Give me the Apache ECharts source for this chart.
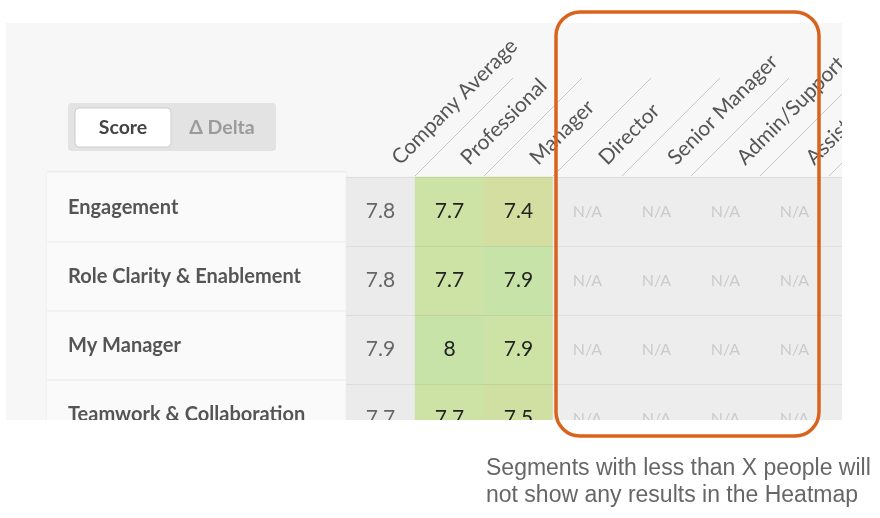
<!DOCTYPE html>
<html>
<head>
<meta charset="utf-8">
<script src="https://cdn.jsdelivr.net/npm/echarts@6/dist/echarts.min.js"></script>
<style>
  html, body { margin: 0; padding: 0; background: #fff; }
  #chart { width: 880px; height: 518px; }
</style>
</head>
<body>
<div id="chart"></div>
<script>
// segments (columns) and topics (rows)
const segments = ['Company Average', 'Professional', 'Manager', 'Director', 'Senior Manager', 'Admin/Support', 'Assistant', 'Associate']
const topics = ['Engagement', 'Role Clarity & Enablement', 'My Manager', 'Teamwork & Collaboration']

// scores per segment, one per topic; null = too few people (N/A)
const companyAverage = [7.8, 7.8, 7.9, 7.7]
const professional = [7.7, 7.7, 8, 7.7]
const manager = [7.4, 7.9, 7.9, 7.5]
const director = [null, null, null, null]
const seniorManager = [null, null, null, null]
const adminSupport = [null, null, null, null]
const assistant = [null, null, null, null]
const associate = [null, null, null, null]

const columns = [companyAverage, professional, manager, director, seniorManager, adminSupport, assistant, associate]

const toggleLabels = ['Score', 'Δ Delta']
const footnote = ['Segments with less than X people will', 'not show any results in the Heatmap']

const FONT = 'Lato, "Open Sans", sans-serif'
const AVG_BG = '#ebebeb'
const NA_BG = '#ededed'

function cellColor(delta) {
  if (delta <= -0.3) return '#d4dea0'
  if (delta <= -0.2) return '#d0e0a3'
  if (delta <= 0) return '#cde3a6'
  return '#c8e3a8'
}

const scoreData = []
const naData = []
columns.forEach((col, x) => {
  col.forEach((v, y) => {
    if (v === null) {
      naData.push([x, y, 0])
    } else if (x === 0) {
      scoreData.push({ value: [x, y, v], itemStyle: { color: AVG_BG }, label: { color: '#666' } })
    } else {
      const delta = Math.round((v - companyAverage[y]) * 10) / 10
      scoreData.push({ value: [x, y, v], itemStyle: { color: cellColor(delta) }, label: { color: '#222' } })
    }
  })
})

const chart = echarts.init(document.getElementById('chart'))

chart.setOption({
  animation: false,
  backgroundColor: '#ffffff',
  grid: {
    left: 346,
    top: 177,
    width: 552,
    height: 276,
    outerBoundsMode: 'none',
  },
  xAxis: {
    type: 'category',
    position: 'top',
    data: segments,
    z: 3,
    axisLine: { show: false },
    axisTick: { show: false },
    splitLine: { show: false },
    axisLabel: {
      interval: 0,
      rotate: -45,
      margin: 1,
      padding: [0, 0, 0, 21],
      color: '#555',
      fontFamily: FONT,
      fontSize: 21,
    },
  },
  yAxis: {
    type: 'category',
    inverse: true,
    data: topics,
    z: 10,
    axisLine: { show: false },
    axisTick: { show: false },
    splitLine: { show: true, lineStyle: { color: 'rgba(0,0,0,0.06)', width: 1 } },
    axisLabel: {
      align: 'left',
      verticalAlign: 'bottom',
      lineHeight: 8,
      margin: 278,
      color: '#555',
      fontFamily: FONT,
      fontWeight: 'bold',
      fontSize: 20,
    },
  },
  series: [
    {
      name: 'Score',
      type: 'heatmap',
      data: scoreData,
      label: {
        show: true,
        formatter: (p) => String(p.value[2]),
        fontFamily: FONT,
        fontSize: 21,
      },
      emphasis: { disabled: true },
    },
    {
      name: 'N/A',
      type: 'heatmap',
      data: naData,
      itemStyle: { color: NA_BG },
      label: {
        show: true,
        formatter: 'N/A',
        color: '#cbcbcb',
        fontFamily: FONT,
        fontSize: 16,
      },
      emphasis: { disabled: true },
    },
  ],
})

// decorations positioned from the axes
const centersX = segments.map((s, i) => chart.convertToPixel({ xAxisIndex: 0 }, i))
const centersY = topics.map((t, i) => chart.convertToPixel({ yAxisIndex: 0 }, i))
const colW = centersX[1] - centersX[0]
const rowH = centersY[1] - centersY[0]
const gridTop = centersY[0] - rowH / 2

const graphics = []

// panel background
graphics.push({ type: 'rect', z: -5, silent: true, shape: { x: 6, y: 23, width: 836, height: 397 }, style: { fill: '#f7f7f7' } })

// row label area
const labelLeft = 47
const labelRight = centersX[0] - colW / 2
graphics.push({
  type: 'rect', z: -4, silent: true,
  shape: { x: labelLeft, y: gridTop - 5, width: labelRight - labelLeft, height: 420 - gridTop + 5 },
  style: { fill: '#fafafa', shadowBlur: 3, shadowColor: 'rgba(0,0,0,0.06)' },
})
const rowLines = [gridTop - 5].concat(centersY.map((c) => c + rowH / 2 - 4))
rowLines.forEach((y) => {
  graphics.push({ type: 'line', z: -3, silent: true, shape: { x1: labelLeft, y1: y, x2: labelRight, y2: y }, style: { stroke: '#ebebeb', lineWidth: 1 } })
})

// diagonal header separators
centersX.forEach((c) => {
  const bx = c + colW / 2
  graphics.push({ type: 'line', z: 1, silent: true, shape: { x1: bx, y1: gridTop - 1, x2: bx + 98, y2: gridTop - 99 }, style: { stroke: '#c6c6c6', lineWidth: 1 } })
})

// Score / Delta toggle
graphics.push({ type: 'rect', z: 5, silent: true, shape: { x: 68, y: 103, width: 208, height: 48, r: 4 }, style: { fill: '#e3e3e3' } })
graphics.push({ type: 'rect', z: 6, silent: true, shape: { x: 75, y: 108, width: 96, height: 39, r: 4 }, style: { fill: '#ffffff', stroke: '#cdcdcd', lineWidth: 1 } })
graphics.push({ type: 'text', z: 7, silent: true, x: 123, y: 128, style: { text: toggleLabels[0], fill: '#444', font: 'bold 19.5px ' + FONT, textAlign: 'center', textVerticalAlign: 'middle' } })
graphics.push({ type: 'text', z: 7, silent: true, x: 222, y: 128, style: { text: toggleLabels[1], fill: '#9b9b9b', font: 'bold 19.5px ' + FONT, textAlign: 'center', textVerticalAlign: 'middle' } })

// crop of the screenshot: white outside the panel
graphics.push({ type: 'rect', z: 100, silent: true, shape: { x: 842, y: 0, width: 40, height: 518 }, style: { fill: '#ffffff' } })
graphics.push({ type: 'rect', z: 100, silent: true, shape: { x: 0, y: 420, width: 880, height: 100 }, style: { fill: '#ffffff' } })

// note
footnote.forEach((line, i) => {
  graphics.push({ type: 'text', z: 110, silent: true, x: 486, y: 469 + i * 27, style: { text: line, fill: '#666', font: '23px "Liberation Sans", Arial, sans-serif', textVerticalAlign: 'middle' } })
})

// highlight box
graphics.push({ type: 'rect', z: 120, silent: true, shape: { x: 556, y: 12, width: 263, height: 424, r: 24 }, style: { fill: 'none', stroke: '#d9631e', lineWidth: 3.5 } })

chart.setOption({ graphic: graphics })
</script>
</body>
</html>
